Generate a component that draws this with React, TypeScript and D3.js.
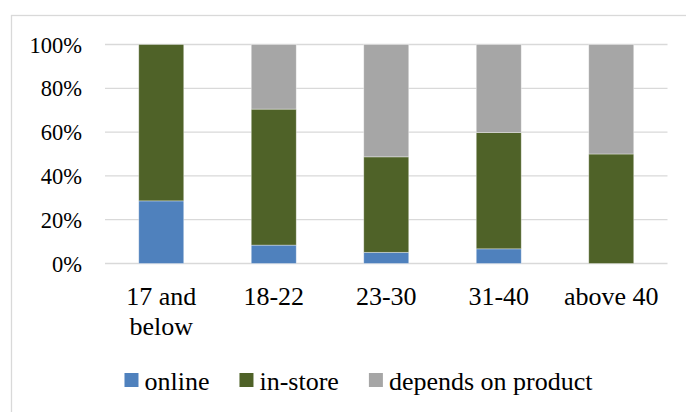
import React, { useMemo } from "react";
import * as d3 from "d3";

// Share of shoppers by preferred channel, per age group (percent)
const ageGroups: string[][] = [["17 and", "below"], ["18-22"], ["23-30"], ["31-40"], ["above 40"]];
const seriesNames = ["online", "in-store", "depends on product"];
const online = [28.6, 8.4, 5.1, 6.7, 0];
const inStore = [71.4, 62.1, 43.6, 53.1, 50];
const dependsOnProduct = [0, 29.5, 51.3, 40.2, 50];
const yTicks = [0, 20, 40, 60, 80, 100];
const colors = ["#4F81BD", "#4F6228", "#A6A6A6"];

const W = 686;
const H = 412;
const FONT = '"Liberation Serif", "Times New Roman", Times, serif';

function measure(text: string, size: number): number {
  const c = document.createElement("canvas").getContext("2d");
  if (!c) return text.length * size * 0.45;
  c.font = `${size}px "Liberation Serif", serif`;
  return c.measureText(text).width;
}

const textStyle = { fontFamily: FONT } as React.CSSProperties;

export default function App() {
  const keys = ageGroups.map((g) => g.join(" "));
  const rows = keys.map((k, i) => ({
    key: k,
    online: online[i],
    "in-store": inStore[i],
    "depends on product": dependsOnProduct[i],
  }));
  const stacked = d3.stack<any>().keys(seriesNames)(rows);

  const x = d3.scaleBand<string>().domain(keys).range([105, 667.5]).paddingInner(0).paddingOuter(0);
  const y = d3.scaleLinear().domain([0, 100]).range([263.5, 44.5]);
  const barW = x.bandwidth() * 0.4;

  const legend = useMemo(() => {
    const sw = 14, gap = 6, spacing = 30, size = 26;
    const widths = seriesNames.map((n) => measure(n, size));
    const total = widths.reduce((a, w) => a + sw + gap + w, 0) + spacing * (seriesNames.length - 1);
    let cx = 358.5 - total / 2;
    return seriesNames.map((n, i) => {
      const item = { name: n, x: cx, color: colors[i] };
      cx += sw + gap + widths[i] + spacing;
      return item;
    });
  }, []);

  return (
    <svg
      width={W}
      height={H}
      style={{ position: "absolute", left: 0, top: 0, background: "#fff", fontFamily: FONT }}
    >
      <rect x={11.5} y={15.5} width={720} height={420} fill="#fff" stroke="#D9D9D9" strokeWidth={1.3} />

      {yTicks.map((t) => (
        <g key={t}>
          <line x1={105} x2={667.5} y1={y(t)} y2={y(t)} stroke="#D9D9D9" strokeWidth={1.3} />
          <text x={82} y={y(t) + 8} textAnchor="end" fontSize={22.5} fill="#000" style={textStyle}>
            {t}%
          </text>
        </g>
      ))}

      {stacked.map((s, si) => (
        <g key={s.key} fill={colors[si]}>
          {s.map((d, i) => {
            const h = y(d[0]) - y(d[1]);
            if (h <= 0) return null;
            return (
              <rect
                key={i}
                x={(x(keys[i]) as number) + (x.bandwidth() - barW) / 2}
                y={y(d[1])}
                width={barW}
                height={h}
                stroke="#ffffff"
                strokeOpacity={0.45}
                strokeWidth={0.8}
              />
            );
          })}
        </g>
      ))}

      {ageGroups.map((lines, i) => (
        <text
          key={i}
          x={(x(keys[i]) as number) + x.bandwidth() / 2}
          y={305}
          textAnchor="middle"
          fontSize={26}
          fill="#000"
          style={textStyle}
        >
          {lines.map((l, j) => (
            <tspan key={j} x={(x(keys[i]) as number) + x.bandwidth() / 2} dy={j === 0 ? 0 : 30}>
              {l}
            </tspan>
          ))}
        </text>
      ))}

      {legend.map((item) => (
        <g key={item.name}>
          <rect x={item.x} y={373} width={14} height={14} fill={item.color} />
          <text x={item.x + 20} y={390} fontSize={26} fill="#000" style={textStyle}>
            {item.name}
          </text>
        </g>
      ))}
    </svg>
  );
}
